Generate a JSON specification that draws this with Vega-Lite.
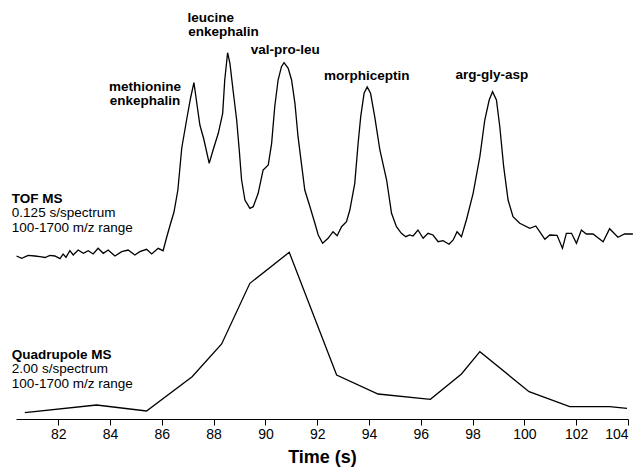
{
  "$schema": "https://vega.github.io/schema/vega-lite/v6.json",
  "autosize": "none",
  "width": 612,
  "height": 419,
  "padding": {"left": 16, "top": 0, "right": 15, "bottom": 52},
  "background": "white",
  "config": {"view": {"stroke": null}, "font": "Liberation Sans"},
  "datasets": {
    "traces": [
      {"series": "TOF", "t": 80.39, "v": 163},
      {"series": "TOF", "t": 80.59, "v": 160.7},
      {"series": "TOF", "t": 80.84, "v": 163.7},
      {"series": "TOF", "t": 81.10, "v": 163},
      {"series": "TOF", "t": 81.29, "v": 162.3},
      {"series": "TOF", "t": 81.49, "v": 161.5},
      {"series": "TOF", "t": 81.68, "v": 163.7},
      {"series": "TOF", "t": 81.87, "v": 163},
      {"series": "TOF", "t": 82.07, "v": 160.3},
      {"series": "TOF", "t": 82.19, "v": 165},
      {"series": "TOF", "t": 82.30, "v": 161.7},
      {"series": "TOF", "t": 82.45, "v": 168.3},
      {"series": "TOF", "t": 82.58, "v": 164},
      {"series": "TOF", "t": 82.77, "v": 169},
      {"series": "TOF", "t": 82.97, "v": 165.7},
      {"series": "TOF", "t": 83.16, "v": 168.3},
      {"series": "TOF", "t": 83.35, "v": 165},
      {"series": "TOF", "t": 83.54, "v": 170.7},
      {"series": "TOF", "t": 83.74, "v": 165.7},
      {"series": "TOF", "t": 83.93, "v": 169},
      {"series": "TOF", "t": 84.19, "v": 163},
      {"series": "TOF", "t": 84.45, "v": 167.3},
      {"series": "TOF", "t": 84.70, "v": 169},
      {"series": "TOF", "t": 84.96, "v": 164},
      {"series": "TOF", "t": 85.15, "v": 167.3},
      {"series": "TOF", "t": 85.41, "v": 169.7},
      {"series": "TOF", "t": 85.61, "v": 165},
      {"series": "TOF", "t": 85.86, "v": 170.7},
      {"series": "TOF", "t": 86.05, "v": 168.3},
      {"series": "TOF", "t": 86.18, "v": 181},
      {"series": "TOF", "t": 86.31, "v": 193},
      {"series": "TOF", "t": 86.47, "v": 207},
      {"series": "TOF", "t": 86.62, "v": 229},
      {"series": "TOF", "t": 86.77, "v": 271},
      {"series": "TOF", "t": 86.97, "v": 301},
      {"series": "TOF", "t": 87.11, "v": 321},
      {"series": "TOF", "t": 87.24, "v": 336.3},
      {"series": "TOF", "t": 87.35, "v": 316},
      {"series": "TOF", "t": 87.47, "v": 294},
      {"series": "TOF", "t": 87.62, "v": 280},
      {"series": "TOF", "t": 87.83, "v": 255.7},
      {"series": "TOF", "t": 87.98, "v": 269},
      {"series": "TOF", "t": 88.18, "v": 285.7},
      {"series": "TOF", "t": 88.35, "v": 305.7},
      {"series": "TOF", "t": 88.43, "v": 339},
      {"series": "TOF", "t": 88.54, "v": 366.3},
      {"series": "TOF", "t": 88.63, "v": 355.7},
      {"series": "TOF", "t": 88.75, "v": 329},
      {"series": "TOF", "t": 88.89, "v": 299},
      {"series": "TOF", "t": 88.99, "v": 269},
      {"series": "TOF", "t": 89.08, "v": 239},
      {"series": "TOF", "t": 89.21, "v": 219},
      {"series": "TOF", "t": 89.40, "v": 210.7},
      {"series": "TOF", "t": 89.53, "v": 212.3},
      {"series": "TOF", "t": 89.72, "v": 225.7},
      {"series": "TOF", "t": 89.91, "v": 249},
      {"series": "TOF", "t": 90.11, "v": 254},
      {"series": "TOF", "t": 90.24, "v": 275.7},
      {"series": "TOF", "t": 90.36, "v": 312.3},
      {"series": "TOF", "t": 90.49, "v": 339},
      {"series": "TOF", "t": 90.62, "v": 352.3},
      {"series": "TOF", "t": 90.72, "v": 356.3},
      {"series": "TOF", "t": 90.88, "v": 350.7},
      {"series": "TOF", "t": 91.01, "v": 339},
      {"series": "TOF", "t": 91.14, "v": 315.7},
      {"series": "TOF", "t": 91.26, "v": 282.3},
      {"series": "TOF", "t": 91.39, "v": 255.7},
      {"series": "TOF", "t": 91.52, "v": 229},
      {"series": "TOF", "t": 91.72, "v": 212.3},
      {"series": "TOF", "t": 91.91, "v": 195.7},
      {"series": "TOF", "t": 92.04, "v": 184},
      {"series": "TOF", "t": 92.21, "v": 175.7},
      {"series": "TOF", "t": 92.42, "v": 180.7},
      {"series": "TOF", "t": 92.61, "v": 187.3},
      {"series": "TOF", "t": 92.77, "v": 183.3},
      {"series": "TOF", "t": 92.94, "v": 192.3},
      {"series": "TOF", "t": 93.13, "v": 197.3},
      {"series": "TOF", "t": 93.26, "v": 209},
      {"series": "TOF", "t": 93.45, "v": 235.7},
      {"series": "TOF", "t": 93.58, "v": 275.7},
      {"series": "TOF", "t": 93.68, "v": 302.3},
      {"series": "TOF", "t": 93.81, "v": 325.7},
      {"series": "TOF", "t": 93.93, "v": 332},
      {"series": "TOF", "t": 94.06, "v": 325.7},
      {"series": "TOF", "t": 94.22, "v": 302.3},
      {"series": "TOF", "t": 94.42, "v": 269},
      {"series": "TOF", "t": 94.68, "v": 239},
      {"series": "TOF", "t": 94.87, "v": 205.7},
      {"series": "TOF", "t": 95.06, "v": 192.3},
      {"series": "TOF", "t": 95.25, "v": 185.7},
      {"series": "TOF", "t": 95.42, "v": 182.3},
      {"series": "TOF", "t": 95.57, "v": 184},
      {"series": "TOF", "t": 95.70, "v": 183},
      {"series": "TOF", "t": 95.89, "v": 189},
      {"series": "TOF", "t": 96.09, "v": 180.7},
      {"series": "TOF", "t": 96.28, "v": 185.7},
      {"series": "TOF", "t": 96.47, "v": 184},
      {"series": "TOF", "t": 96.67, "v": 177.3},
      {"series": "TOF", "t": 96.86, "v": 178.3},
      {"series": "TOF", "t": 97.09, "v": 174.7},
      {"series": "TOF", "t": 97.25, "v": 179},
      {"series": "TOF", "t": 97.40, "v": 187.3},
      {"series": "TOF", "t": 97.57, "v": 182.3},
      {"series": "TOF", "t": 97.76, "v": 199},
      {"series": "TOF", "t": 98.02, "v": 225.7},
      {"series": "TOF", "t": 98.28, "v": 262.3},
      {"series": "TOF", "t": 98.47, "v": 299},
      {"series": "TOF", "t": 98.64, "v": 319},
      {"series": "TOF", "t": 98.77, "v": 327.3},
      {"series": "TOF", "t": 98.92, "v": 319},
      {"series": "TOF", "t": 99.05, "v": 292.3},
      {"series": "TOF", "t": 99.20, "v": 252.3},
      {"series": "TOF", "t": 99.37, "v": 219},
      {"series": "TOF", "t": 99.56, "v": 202.3},
      {"series": "TOF", "t": 99.82, "v": 195.7},
      {"series": "TOF", "t": 100.21, "v": 190.7},
      {"series": "TOF", "t": 100.44, "v": 193},
      {"series": "TOF", "t": 100.59, "v": 187.3},
      {"series": "TOF", "t": 100.79, "v": 179.7},
      {"series": "TOF", "t": 100.98, "v": 184},
      {"series": "TOF", "t": 101.26, "v": 183.7},
      {"series": "TOF", "t": 101.47, "v": 170.7},
      {"series": "TOF", "t": 101.62, "v": 185.7},
      {"series": "TOF", "t": 101.82, "v": 185.7},
      {"series": "TOF", "t": 102.01, "v": 175.7},
      {"series": "TOF", "t": 102.20, "v": 189},
      {"series": "TOF", "t": 102.39, "v": 185},
      {"series": "TOF", "t": 102.65, "v": 185},
      {"series": "TOF", "t": 103.04, "v": 177.3},
      {"series": "TOF", "t": 103.29, "v": 190.3},
      {"series": "TOF", "t": 103.61, "v": 181.7},
      {"series": "TOF", "t": 103.87, "v": 185},
      {"series": "TOF", "t": 104.19, "v": 185},
      {"series": "Quad", "t": 80.71, "v": 6.3},
      {"series": "Quad", "t": 83.48, "v": 14},
      {"series": "Quad", "t": 85.41, "v": 8},
      {"series": "Quad", "t": 87.17, "v": 42.3},
      {"series": "Quad", "t": 88.31, "v": 75},
      {"series": "Quad", "t": 89.40, "v": 135.7},
      {"series": "Quad", "t": 90.92, "v": 166.7},
      {"series": "Quad", "t": 92.75, "v": 44},
      {"series": "Quad", "t": 94.35, "v": 25},
      {"series": "Quad", "t": 96.37, "v": 19.7},
      {"series": "Quad", "t": 97.57, "v": 45},
      {"series": "Quad", "t": 98.28, "v": 67.3},
      {"series": "Quad", "t": 100.18, "v": 27.3},
      {"series": "Quad", "t": 101.75, "v": 12.3},
      {"series": "Quad", "t": 103.29, "v": 12.3},
      {"series": "Quad", "t": 103.96, "v": 10.7}
    ],
    "peaks": [
      {"t": 85.35, "v": 332, "label": "methionine"},
      {"t": 85.35, "v": 318, "label": "enkephalin"},
      {"t": 87.89, "v": 401, "label": "leucine"},
      {"t": 88.38, "v": 387, "label": "enkephalin"},
      {"t": 90.77, "v": 369, "label": "val-pro-leu"},
      {"t": 93.91, "v": 343, "label": "morphiceptin"},
      {"t": 98.74, "v": 344, "label": "arg-gly-asp"}
    ],
    "heads": [
      {"t": 80.21, "v": 219.7, "label": "TOF MS"},
      {"t": 80.21, "v": 64, "label": "Quadrupole MS"}
    ],
    "notes": [
      {"t": 80.21, "v": 205.7, "label": "0.125 s/spectrum"},
      {"t": 80.21, "v": 191.3, "label": "100-1700 m/z range"},
      {"t": 80.21, "v": 49.7, "label": "2.00 s/spectrum"},
      {"t": 80.21, "v": 35, "label": "100-1700 m/z range"}
    ]
  },
  "encoding": {
    "x": {
      "field": "t",
      "type": "quantitative",
      "scale": {"domain": [80.37, 104], "nice": false, "zero": false},
      "axis": {
        "values": [82, 84, 86, 88, 90, 92, 94, 96, 98, 100, 102, 104],
        "grid": false,
        "title": "Time (s)",
        "titleFontSize": 18,
        "titleFontWeight": "bold",
        "titleColor": "black",
        "titlePadding": 7,
        "labelFontSize": 14,
        "labelColor": "black",
        "labelPadding": 2,
        "tickSize": 6,
        "tickColor": "black",
        "domainColor": "black",
        "domainWidth": 1.2,
        "tickWidth": 1,
        "labelFont": "Liberation Sans",
        "titleFont": "Liberation Sans"
      }
    },
    "y": {
      "field": "v",
      "type": "quantitative",
      "scale": {"domain": [0, 419], "nice": false, "zero": false},
      "axis": null
    }
  },
  "layer": [
    {
      "data": {"name": "traces"},
      "mark": {"type": "line", "color": "black", "strokeWidth": 1.3, "strokeJoin": "miter"},
      "encoding": {"detail": {"field": "series"}, "order": {"field": "t", "type": "quantitative"}}
    },
    {
      "data": {"name": "peaks"},
      "mark": {"type": "text", "align": "center", "baseline": "middle", "fontSize": 13.5, "fontWeight": "bold", "color": "black", "font": "Liberation Sans"},
      "encoding": {"text": {"field": "label"}}
    },
    {
      "data": {"name": "heads"},
      "mark": {"type": "text", "align": "left", "baseline": "middle", "fontSize": 13.5, "fontWeight": "bold", "color": "black", "font": "Liberation Sans"},
      "encoding": {"text": {"field": "label"}}
    },
    {
      "data": {"name": "notes"},
      "mark": {"type": "text", "align": "left", "baseline": "middle", "fontSize": 13.5, "color": "black", "font": "Liberation Sans"},
      "encoding": {"text": {"field": "label"}}
    }
  ]
}
